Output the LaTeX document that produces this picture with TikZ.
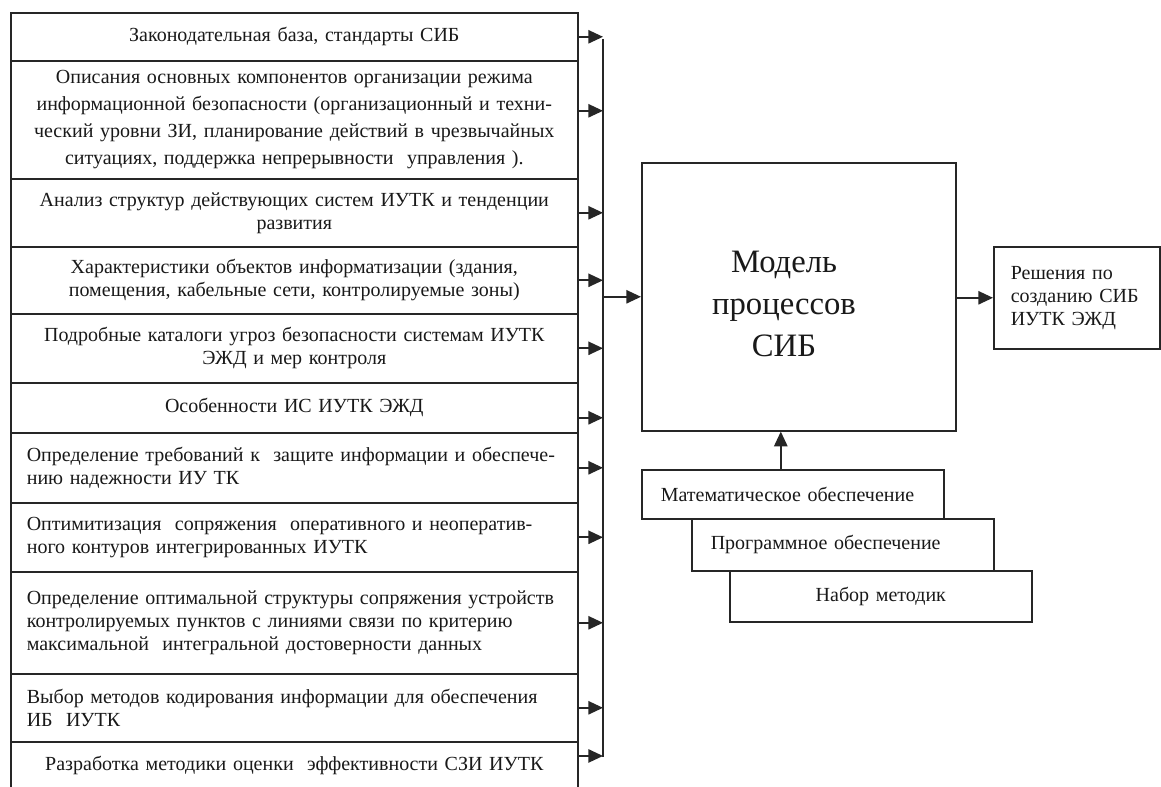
\documentclass[tikz,border=0pt]{standalone}
\usepackage{fontspec}
\setmainfont{Liberation Serif}
\usetikzlibrary{arrows.meta}
\begin{document}
\begin{tikzpicture}[x=0.75pt,y=-0.75pt,
  line width=1.2pt,
  every node/.style={font=\fontsize{15pt}{17.25pt}\selectfont, text=black!90},
  lbox/.style={draw=black!85, rectangle, anchor=north west, minimum width=425.25pt,
    inner ysep=1pt, align=center, text width=408.75pt, inner xsep=8.25pt},
  lboxl/.style={lbox, align=left, text width=401.25pt, inner xsep=12pt},
  rbox/.style={draw=black!85, rectangle, anchor=north west, inner ysep=1pt},
  sbox/.style={rbox, minimum width=226.5pt, align=left, text width=198pt, inner xsep=14.25pt},
  arr/.style={draw=black!85, -{Triangle[length=11pt,width=10pt]}},
  ]
\useasboundingbox (0,0) rectangle (1161,787);
\fill[white] (0,0) rectangle (1161,787);

% left column
\node[lbox, minimum height=36pt] (b1) at (10,12) {Законодательная база, стандарты СИБ};
\node[lbox, minimum height=88.5pt, font=\fontsize{15pt}{20.25pt}\selectfont] (b2) at (10,60)
  {Описания основных компонентов организации режима\\
   информационной безопасности (организационный и техни-\\
   ческий уровни ЗИ, планирование действий в чрезвычайных\\
   ситуациях, поддержка непрерывности~ управления ).};
\node[lbox, minimum height=51pt] (b3) at (10,178)
  {Анализ структур действующих систем ИУТК и тенденции\\ развития};
\node[lbox, minimum height=50.25pt] (b4) at (10,246)
  {Характеристики объектов информатизации (здания,\\ помещения, кабельные сети, контролируемые зоны)};
\node[lbox, minimum height=51.75pt] (b5) at (10,313)
  {Подробные каталоги угроз безопасности системам ИУТК\\ ЭЖД и мер контроля};
\node[lbox, minimum height=37.5pt] (b6) at (10,382) {Особенности ИС ИУТК ЭЖД};
\node[lboxl, minimum height=52.5pt] (b7) at (10,432)
  {Определение требований к~ защите информации и обеспече-\\ нию надежности ИУ ТК};
\node[lboxl, minimum height=51.75pt] (b8) at (10,502)
  {Оптимитизация~ сопряжения~ оперативного и неоператив-\\ ного контуров интегрированных ИУТК};
\node[lboxl, minimum height=76.5pt] (b9) at (10,571)
  {Определение оптимальной структуры сопряжения устройств\\
   контролируемых пунктов с линиями связи по критерию\\
   максимальной~ интегральной достоверности данных};
\node[lboxl, minimum height=51pt] (b10) at (10,673)
  {Выбор методов кодирования информации для обеспечения\\ ИБ~ ИУТК};
\node[lbox, minimum height=35.25pt] (b11) at (10,741)
  {Разработка методики оценки~ эффективности СЗИ ИУТК};

% bus
\coordinate (bustop) at (603,39);
\coordinate (busbot) at (603,757);
\draw[draw=black!85] (bustop) -- (busbot);

\foreach \b/\s in {b1/0pt, b2/6.75pt, b3/0pt, b4/0pt, b5/0pt, b6/-7.5pt, b7/0pt, b8/0pt, b9/0pt, b10/0pt, b11/7pt}{
  \draw[arr] ([yshift=\s]\b.east) -- ([yshift=\s]\b.east -| bustop);
}

% main box
\node[rbox, minimum width=235.5pt, minimum height=201pt] (main) at (641,162) {};
\node[font=\fontsize{24.5pt}{31.5pt}\selectfont, align=center] (mainlbl) at (784,304)
  {Модель\\процессов\\СИБ};
\draw[arr] (main.west -| bustop) -- (main.west);

% output box
\node[rbox, minimum width=124.5pt, minimum height=76.5pt, align=left, text width=99pt, inner xsep=12.75pt] (out) at (993,246)
  {Решения по\\ созданию СИБ\\ ИУТК ЭЖД};
\draw[arr] (out.west -| main.east) -- (out.west);

% bottom stack
\node[sbox, minimum height=36.75pt] (math) at (641,469) {Математическое обеспечение};
\node[sbox, minimum height=39pt] (prog) at (691,518) {Программное обеспечение};
\node[sbox, minimum height=38.25pt, align=center] (nabor) at (729,570) {Набор методик};
\draw[arr] ([xshift=-9pt]math.north) -- ([xshift=-9pt]math.north |- main.south);
\end{tikzpicture}
\end{document}
